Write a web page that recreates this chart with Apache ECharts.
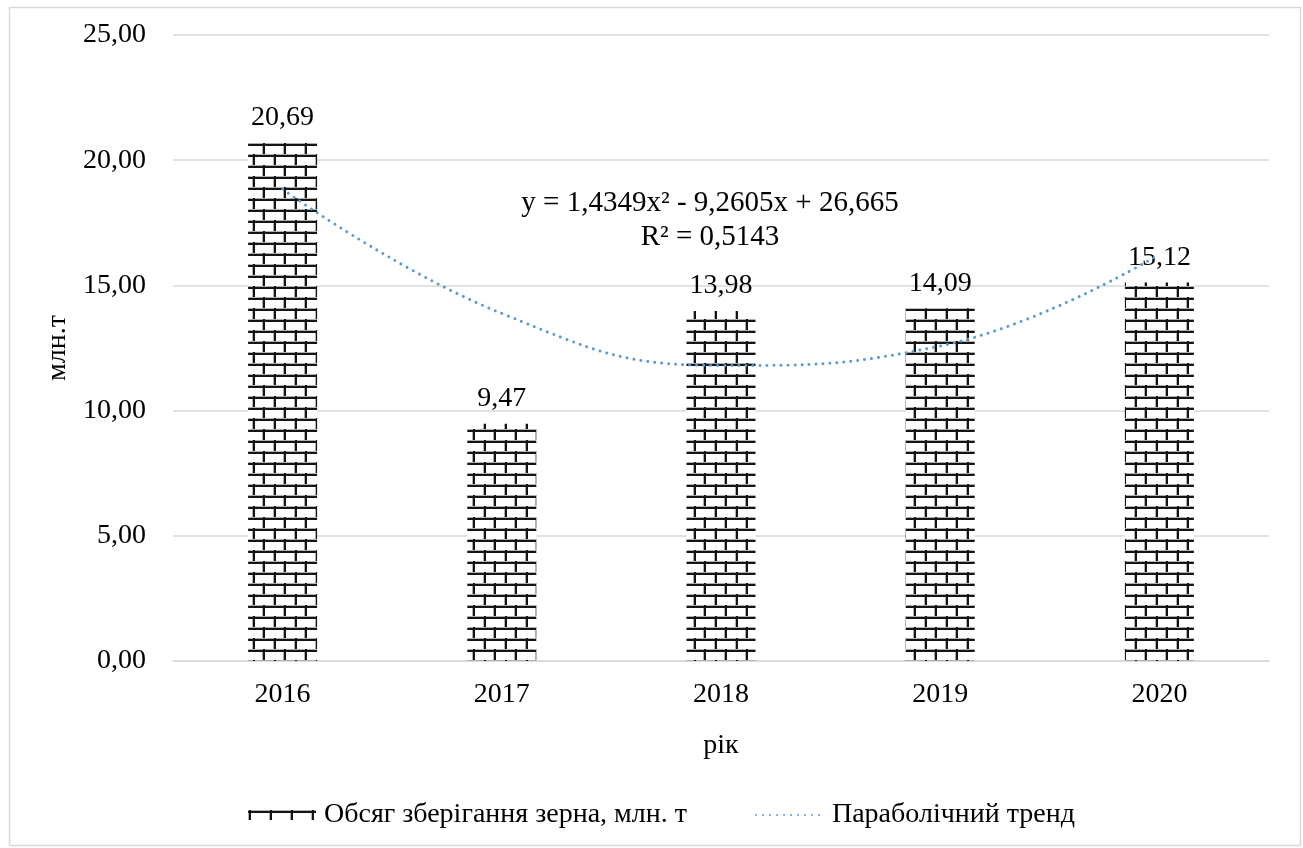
<!DOCTYPE html>
<html>
<head>
<meta charset="utf-8">
<script src="https://cdn.jsdelivr.net/npm/echarts@6/dist/echarts.min.js"></script>
<style>
html,body{margin:0;padding:0;background:#fff;}
#c{width:1303px;height:848px;}
</style>
</head>
<body>
<div id="c"></div>
<script>
const categories = ['2016', '2017', '2018', '2019', '2020'];
const storageValues = [20.69, 9.47, 13.98, 14.09, 15.12];
const trendValues = [18.84, 13.88, 11.80, 12.58, 16.24];
const yTicks = [0, 5, 10, 15, 20, 25];
const seriesNames = ['Обсяг зберігання зерна, млн. т', 'Параболічний тренд'];
const equationText = 'y = 1,4349x² - 9,2605x + 26,665\nR² = 0,5143';
const yAxisTitle = 'млн.т';
const xAxisTitle = 'рік';

function brickPattern() {
  const w = 21, h = 22;
  const c = document.createElement('canvas');
  c.width = w; c.height = h;
  const g = c.getContext('2d');
  g.fillStyle = '#ffffff';
  g.fillRect(0, 0, w, h);
  g.fillStyle = '#b0b0b0';
  g.fillRect(0, 0, w, 3);
  g.fillRect(0, 11, w, 3);
  g.fillRect(0, 0, 3, 11);
  g.fillRect(10, 11, 3, 11);
  g.fillStyle = '#141414';
  g.fillRect(0, 1, w, 2);
  g.fillRect(0, 12, w, 2);
  g.fillRect(1, 0, 2, 11);
  g.fillRect(11, 11, 2, 11);
  return c;
}

const FONT = '"Liberation Serif", "Times New Roman", serif';
const fmt = v => Number(v).toFixed(2).replace('.', ',');

const chart = echarts.init(document.getElementById('c'), null, {renderer: 'canvas'});
const pattern = {image: brickPattern(), repeat: 'repeat'};

chart.setOption({
  animation: false,
  backgroundColor: '#ffffff',
  grid: {left: 173, right: 34, top: 35, bottom: 187, containLabel: false},
  textStyle: {fontFamily: FONT, color: '#000'},
  xAxis: {
    type: 'category',
    data: categories,
    name: xAxisTitle,
    nameLocation: 'middle',
    nameGap: 71,
    nameTextStyle: {fontFamily: FONT, fontSize: 28, color: '#000'},
    axisLine: {lineStyle: {color: '#d9d9d9', width: 1.5}},
    axisTick: {show: false},
    axisLabel: {fontFamily: FONT, fontSize: 28, color: '#000', margin: 20}
  },
  yAxis: {
    type: 'value',
    min: yTicks[0],
    max: yTicks[yTicks.length - 1],
    interval: 5,
    name: yAxisTitle,
    nameLocation: 'middle',
    nameGap: 98,
    nameTextStyle: {fontFamily: FONT, fontSize: 28, color: '#000'},
    axisLine: {show: false},
    axisTick: {show: false},
    splitLine: {lineStyle: {color: '#d9d9d9', width: 1.5}},
    axisLabel: {fontFamily: FONT, fontSize: 28, color: '#000', margin: 27, formatter: fmt}
  },
  legend: {
    left: 243,
    top: 796,
    itemGap: 68,
    itemWidth: 68,
    itemHeight: 10,
    textStyle: {fontFamily: FONT, fontSize: 28, color: '#000', padding: [0, 0, 0, 3]},
    data: [
      {name: seriesNames[0], icon: 'rect'},
      {name: seriesNames[1], itemStyle: {opacity: 0}}
    ]
  },
  series: [
    {
      name: seriesNames[0],
      type: 'bar',
      data: storageValues,
      barWidth: 69,
      itemStyle: {color: pattern},
      label: {
        show: true,
        position: 'top',
        distance: 11,
        fontFamily: FONT,
        fontSize: 28,
        color: '#000',
        formatter: p => fmt(p.value)
      },
      z: 2
    },
    {
      name: seriesNames[1],
      type: 'line',
      data: trendValues,
      smooth: 0.45,
      symbol: 'none',
      lineStyle: {color: '#5b9bd5', width: 3, type: [0.01, 7], cap: 'round'},
      itemStyle: {color: '#5b9bd5'},
      z: 3
    }
  ],
  graphic: [
    {
      type: 'rect',
      left: 7, top: 5,
      shape: {x: 0, y: 0, width: 1291, height: 838},
      style: {fill: 'none', stroke: '#d9d9d9', lineWidth: 1.5},
      silent: true, z: -1
    },
    {
      type: 'text',
      x: 710,
      y: 186,
      style: {
        text: equationText,
        textAlign: 'center',
        font: '29px ' + FONT,
        lineHeight: 34,
        fill: '#000'
      },
      silent: true
    }
  ]
});
</script>
</body>
</html>
